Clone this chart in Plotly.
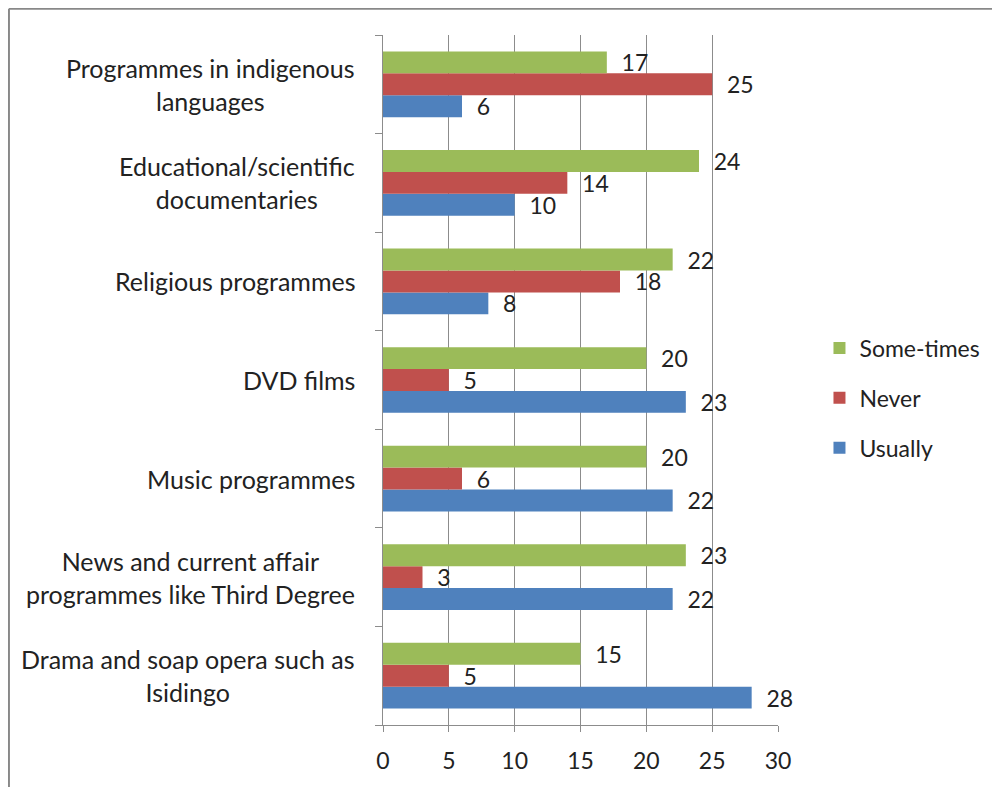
import plotly.graph_objects as go

# categories bottom -> top (plotly draws the first category at the bottom)
categories = [
    "Drama and soap opera such as<br>Isidingo",
    "News and current affair<br>programmes like Third Degree",
    "Music programmes",
    "DVD films",
    "Religious programmes",
    "Educational/scientific<br>documentaries",
    "Programmes in indigenous<br>languages",
]
usually = [28, 22, 22, 23, 8, 10, 6]
never = [5, 3, 6, 5, 18, 14, 25]
sometimes = [15, 23, 20, 20, 22, 24, 17]

series = [
    ("Usually", usually, "#4F81BD", 3),
    ("Never", never, "#C0504D", 2),
    ("Some-times", sometimes, "#9BBB59", 1),
]

FONT = "Lato"
fig = go.Figure()
for name, vals, col, rank in series:
    fig.add_trace(go.Bar(
        y=categories, x=vals, name=name, orientation="h",
        marker=dict(color=col, line=dict(width=0)),
        text=vals, texttemplate="  %{text}", textposition="outside",
        constraintext="none",
        textfont=dict(size=23, color="#222"), cliponaxis=False,
        legendgroup=name, legendrank=rank,
    ))

# category labels as annotations so lines are centred on each other
for c in categories:
    fig.add_annotation(x=-0.066, y=c, xref="paper", yref="y", text=c,
                       showarrow=False, xanchor="right", align="center",
                       font=dict(size=25, color="#222", family=FONT))

# outer frame (left and top edges visible in the reference)
fig.add_shape(type="line", xref="paper", yref="paper", x0=-0.947, x1=1.6, y0=1.038, y1=1.038,
              line=dict(color="#888", width=2))
fig.add_shape(type="line", xref="paper", yref="paper", x0=-0.947, x1=-0.947, y0=1.038, y1=-0.2,
              line=dict(color="#888", width=2))

# page body has an 8px margin, so the figure is shifted to compensate
fig.update_layout(
    width=992, height=779,
    margin=dict(l=375, r=222, t=27, b=62),
    paper_bgcolor="white", plot_bgcolor="white",
    barmode="group", bargap=0.333, bargroupgap=0,
    font=dict(family=FONT, size=23, color="#222"),
    showlegend=True,
    legend=dict(x=1.105, y=0.474, xanchor="left", yanchor="middle",
                traceorder="grouped", tracegroupgap=17,
                font=dict(size=23, color="#222")),
    xaxis=dict(range=[0, 30], dtick=5, showgrid=True, gridcolor="#8c8c8c", gridwidth=1,
               showline=True, linecolor="#8c8c8c", ticks="outside", ticklen=6,
               tickcolor="#8c8c8c", zeroline=False, tickfont=dict(size=23),
               ticklabelstandoff=9),
    yaxis=dict(showline=True, linecolor="#8c8c8c", ticks="outside", ticklen=7,
               tickcolor="#8c8c8c", tickson="boundaries", showticklabels=False,
               showgrid=False),
)

fig.write_html("out.html")
